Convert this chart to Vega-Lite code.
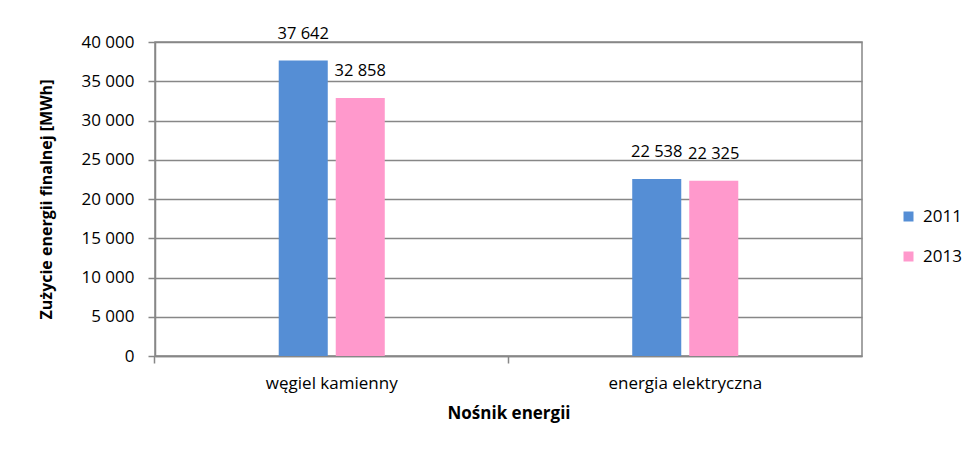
{
  "$schema": "https://vega.github.io/schema/vega-lite/v6.json",
  "autosize": {"type": "none"},
  "width": 707,
  "height": 314,
  "padding": {"left": 155, "top": 42, "right": 116, "bottom": 99},
  "background": "white",
  "data": {
    "values": [
      {"nosnik": "węgiel kamienny", "rok": "2011", "wartosc": 37642},
      {"nosnik": "węgiel kamienny", "rok": "2013", "wartosc": 32858},
      {"nosnik": "energia elektryczna", "rok": "2011", "wartosc": 22538},
      {"nosnik": "energia elektryczna", "rok": "2013", "wartosc": 22325}
    ]
  },
  "encoding": {
    "x": {
      "field": "nosnik",
      "type": "nominal",
      "sort": ["węgiel kamienny", "energia elektryczna"],
      "scale": {"paddingInner": 0.7, "paddingOuter": 0.35},
      "axis": {
        "title": "Nośnik energii",
        "labelAngle": 0,
        "bandPosition": -1.167,
        "ticks": true,
        "tickSize": 7,
        "labelPadding": 12,
        "titlePadding": 14,
        "titleFontSize": 17,
        "domain": true,
        "grid": false
      }
    },
    "xOffset": {
      "field": "rok",
      "type": "nominal",
      "scale": {"paddingInner": 0.14, "paddingOuter": 0}
    },
    "y": {
      "field": "wartosc",
      "type": "quantitative",
      "scale": {"domain": [0, 40000]},
      "axis": {
        "title": "Zużycie energii finalnej [MWh]",
        "values": [0, 5000, 10000, 15000, 20000, 25000, 30000, 35000, 40000],
        "format": ",d",
        "tickSize": 7,
        "labelPadding": 14,
        "titlePadding": 26,
        "titleFontSize": 16,
        "grid": true
      }
    }
  },
  "layer": [
    {
      "mark": {"type": "bar"},
      "encoding": {
        "color": {
          "field": "rok",
          "type": "nominal",
          "scale": {"domain": ["2011", "2013"], "range": ["#558ED5", "#FF99CC"]},
          "legend": {
            "title": null,
            "orient": "none",
            "legendX": 745,
            "legendY": 166,
            "symbolType": "square",
            "symbolSize": 100,
            "symbolStrokeWidth": 0,
            "rowPadding": 22,
            "labelOffset": 6
          }
        }
      }
    },
    {
      "mark": {"type": "text", "baseline": "alphabetic", "dy": -22, "fontSize": 16.5, "font": "Open Sans", "color": "black"},
      "encoding": {
        "text": {"field": "wartosc", "type": "quantitative", "format": ",d"}
      }
    }
  ],
  "config": {
    "locale": {"number": {"decimal": ",", "thousands": " ", "grouping": [3], "currency": ["", ""]}},
    "font": "Open Sans",
    "view": {"stroke": "#878787", "strokeWidth": 1.5},
    "axis": {
      "labelFont": "Open Sans",
      "labelFontSize": 17,
      "labelColor": "black",
      "titleFont": "Open Sans",
      "titleFontWeight": "bold",
      "titleColor": "black",
      "domainColor": "#878787",
      "domainWidth": 1.5,
      "tickColor": "#878787",
      "tickWidth": 1.5,
      "gridColor": "#878787",
      "gridWidth": 1.5
    },
    "legend": {
      "labelFont": "Open Sans",
      "labelFontSize": 17,
      "labelColor": "black"
    }
  }
}
